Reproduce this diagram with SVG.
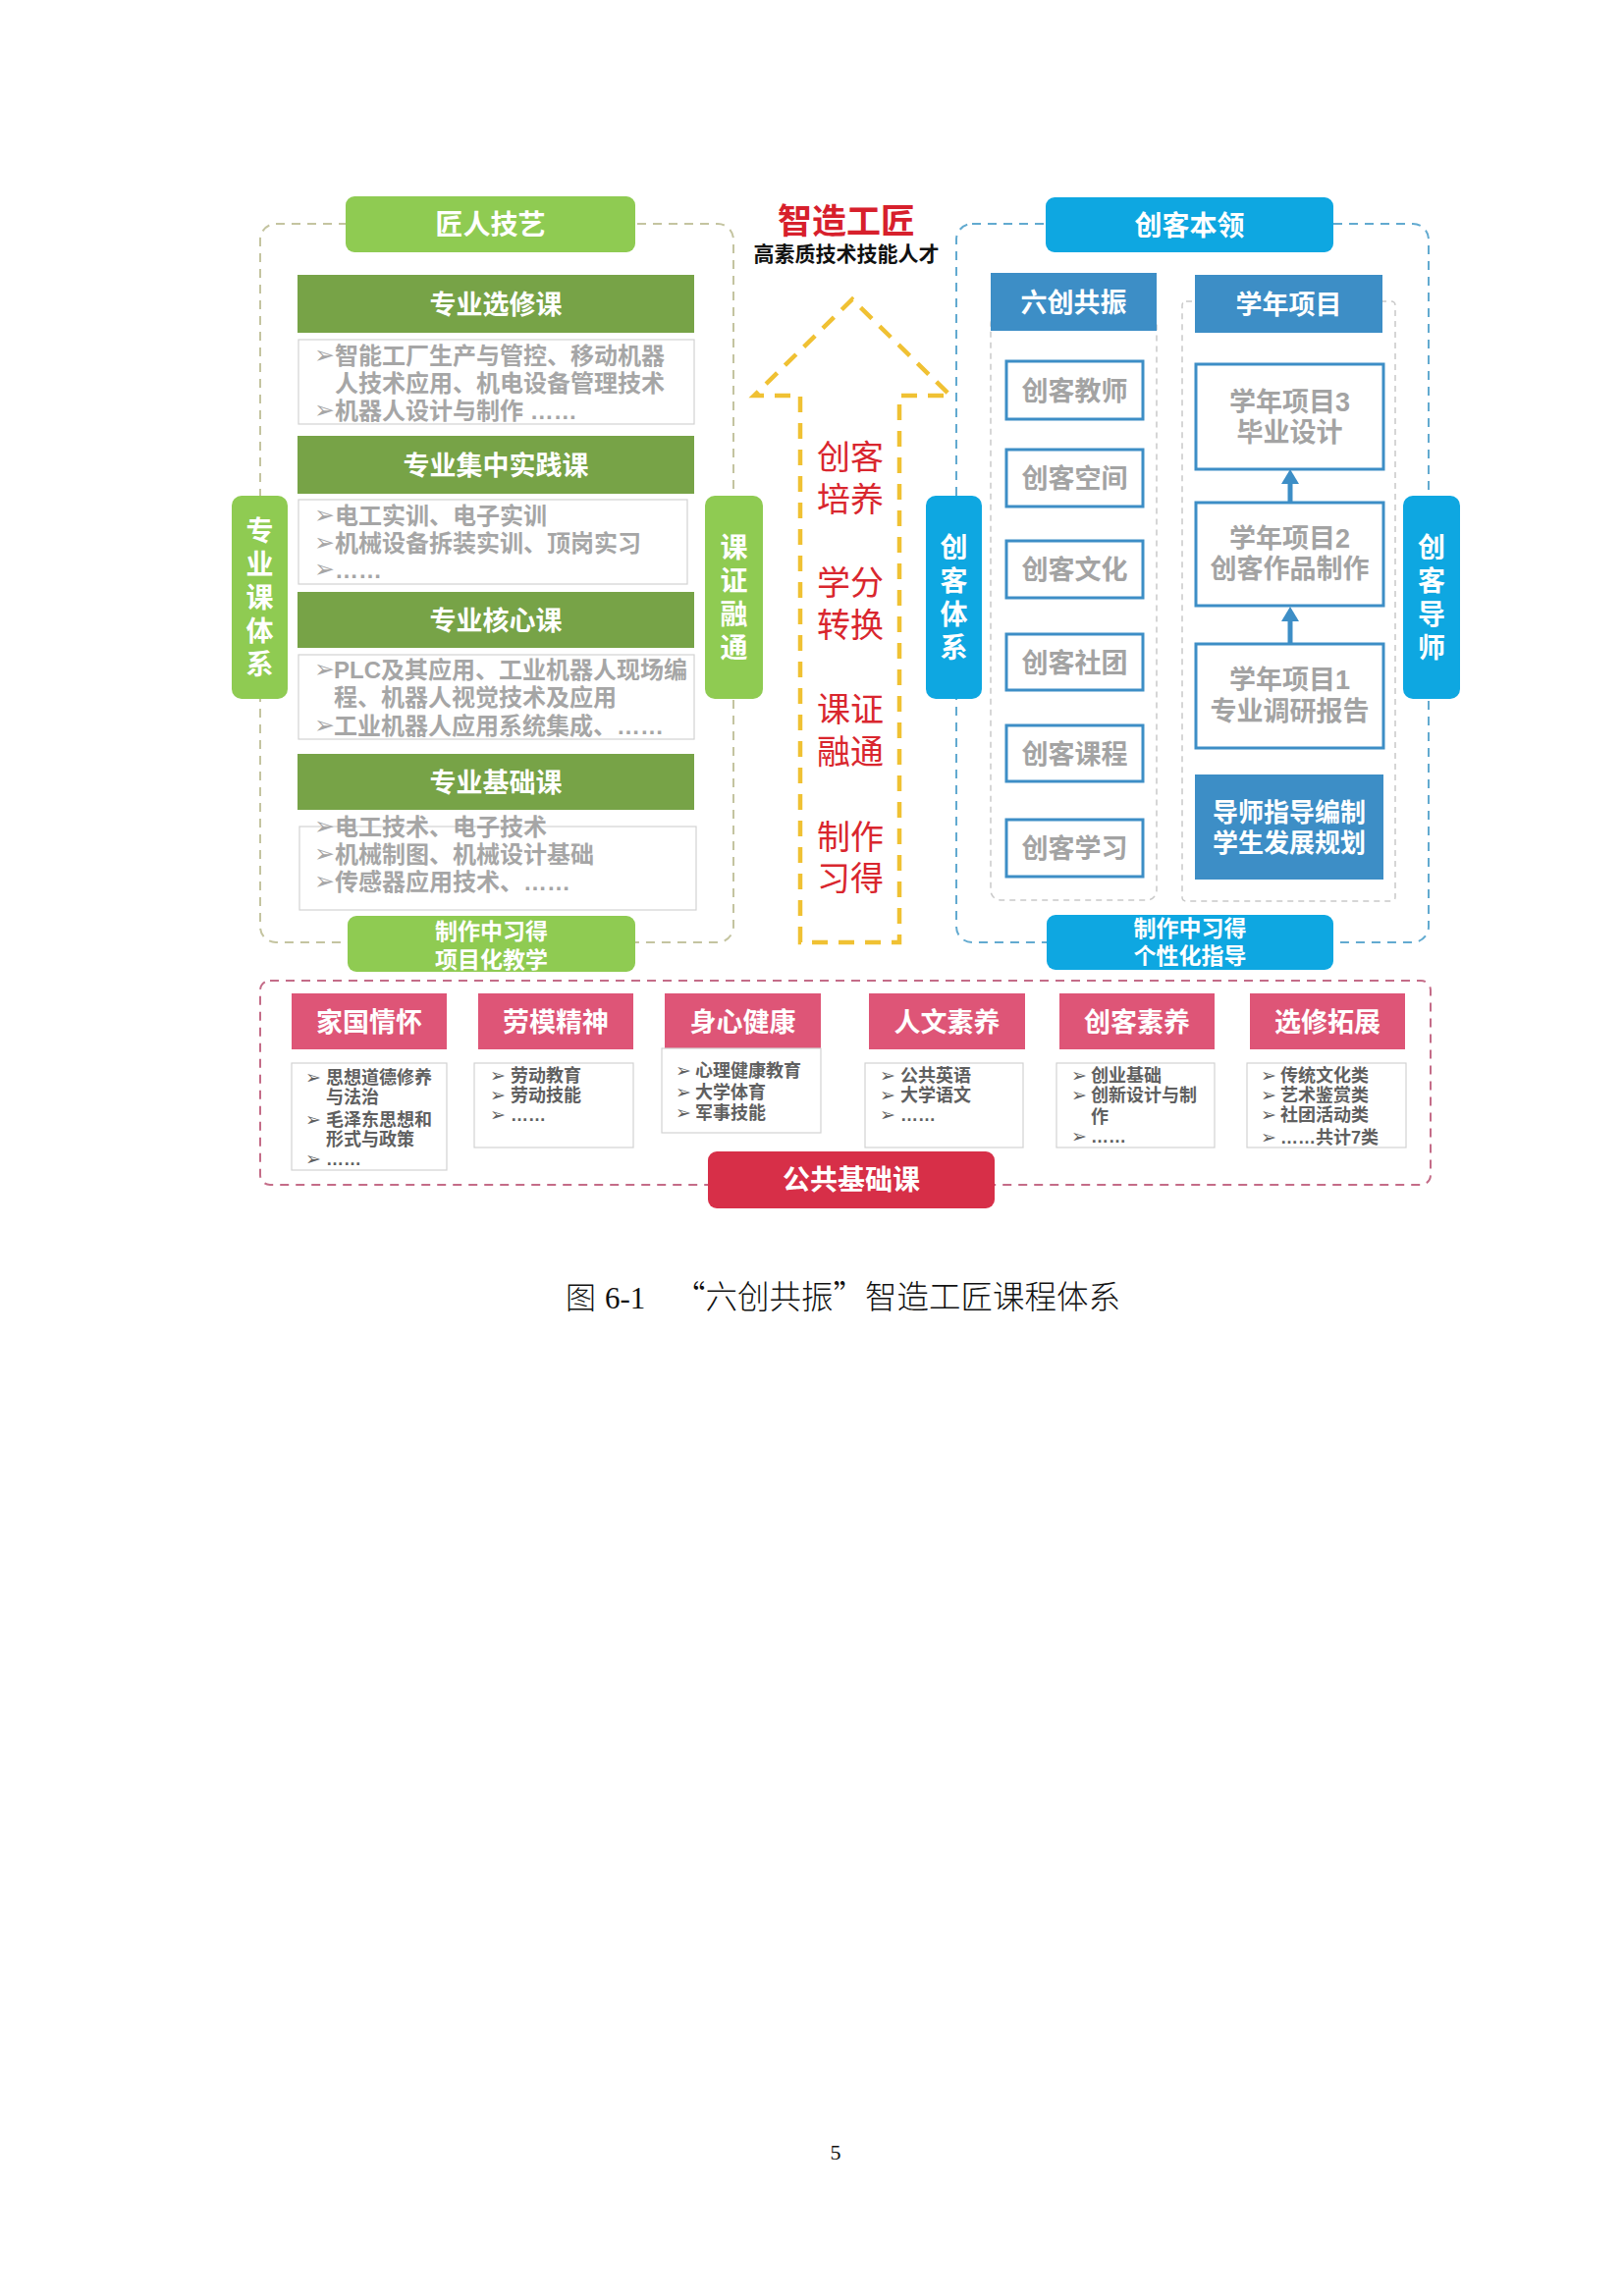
<svg xmlns="http://www.w3.org/2000/svg" width="1654" height="2339" viewBox="0 0 1654 2339">
<style>
.t{font-family:"Liberation Sans","Noto Sans CJK SC",sans-serif;text-anchor:middle;}
.s{font-family:"Liberation Sans","Noto Sans CJK SC",sans-serif;}
.b{font-family:"DejaVu Sans",sans-serif;}
.w{fill:#fff;font-weight:bold;}
.hd{font-size:27px;}
.lg{fill:#a6a6a6;font-weight:bold;font-size:24px;}
.lgb{fill:#a6a6a6;font-size:25px;}
.gbox{fill:#fff;stroke:#d2d2d2;stroke-width:1.2;}
.ghd{fill:#77a347;}
.lgreen{fill:#8fcb52;}
.blue{fill:#0ea7e1;}
.bhd{fill:#3d8ec6;}
.cbox{fill:#fff;stroke:#3d8ec6;stroke-width:3;}
.ct{fill:#a3a3a3;font-weight:bold;font-size:27px;}
.red{fill:#d9262e;font-size:34px;}
.phd{fill:#de5577;}
.pt{fill:#606060;font-weight:bold;font-size:18px;}
.pb{fill:#606060;font-size:19px;}
.dash{fill:none;stroke-width:2;stroke-dasharray:9 7;}
.col{fill:none;stroke:#c9c9c9;stroke-width:1.5;stroke-dasharray:6 5;}
</style>
<rect width="1654" height="2339" fill="#fff"/>

<!-- LEFT: 匠人技艺 -->
<g id="left-frame"><rect x="265" y="228" width="482" height="732" rx="16" class="dash" stroke="#c4c4a0"/></g>
<g id="jiangren"><rect x="352" y="200" width="295" height="57" rx="9" class="lgreen"/><text x="499.5" y="239" class="t w" font-size="28">匠人技艺</text></g>

<g id="xuanxiu">
<rect x="303" y="280" width="404" height="59" class="ghd"/><text x="505" y="320" class="t w hd">专业选修课</text>
<rect x="304" y="346" width="403" height="86" class="gbox"/>
<text x="320" y="370" class="b lgb">➢</text><text x="341" y="371" class="s lg">智能工厂生产与管控、移动机器</text>
<text x="341" y="399" class="s lg">人技术应用、机电设备管理技术</text>
<text x="320" y="426" class="b lgb">➢</text><text x="341" y="427" class="s lg">机器人设计与制作 ……</text>
</g>
<g id="jizhong">
<rect x="303" y="444" width="404" height="59" class="ghd"/><text x="505" y="484" class="t w hd">专业集中实践课</text>
<rect x="304" y="509" width="396" height="86" class="gbox"/>
<text x="320" y="533" class="b lgb">➢</text><text x="341" y="534" class="s lg">电工实训、电子实训</text>
<text x="320" y="561" class="b lgb">➢</text><text x="341" y="562" class="s lg">机械设备拆装实训、顶岗实习</text>
<text x="320" y="588" class="b lgb">➢</text><text x="341" y="589" class="s lg">……</text>
</g>
<g id="hexin">
<rect x="303" y="603" width="404" height="57" class="ghd"/><text x="505" y="642" class="t w hd">专业核心课</text>
<rect x="304" y="667" width="403" height="86" class="gbox"/>
<text x="320" y="690" class="b lgb">➢</text><text x="340" y="691" class="s lg">PLC及其应用、工业机器人现场编</text>
<text x="340" y="719" class="s lg">程、机器人视觉技术及应用</text>
<text x="320" y="747" class="b lgb">➢</text><text x="340" y="748" class="s lg">工业机器人应用系统集成、……</text>
</g>
<g id="jichu">
<rect x="303" y="768" width="404" height="57" class="ghd"/><text x="505" y="807" class="t w hd">专业基础课</text>
<rect x="305" y="842" width="404" height="85" class="gbox"/>
<text x="320" y="850" class="b lgb">➢</text><text x="341" y="851" class="s lg">电工技术、电子技术</text>
<text x="320" y="878" class="b lgb">➢</text><text x="341" y="879" class="s lg">机械制图、机械设计基础</text>
<text x="320" y="906" class="b lgb">➢</text><text x="341" y="907" class="s lg">传感器应用技术、……</text>
</g>
<g id="xiangmuhua"><rect x="354" y="933" width="293" height="57" rx="9" class="lgreen"/>
<text x="500.5" y="957" class="t w" font-size="23">制作中习得</text><text x="500.5" y="986" class="t w" font-size="23">项目化教学</text></g>
<g id="zhuanye-tixi"><rect x="236" y="505" width="57" height="207" rx="10" class="lgreen"/>
<text x="264.5" y="551" class="t w" font-size="28">专</text><text x="264.5" y="585" class="t w" font-size="28">业</text><text x="264.5" y="619" class="t w" font-size="28">课</text><text x="264.5" y="653" class="t w" font-size="28">体</text><text x="264.5" y="687" class="t w" font-size="28">系</text></g>
<g id="kezheng"><rect x="718" y="505" width="59" height="207" rx="10" class="lgreen"/>
<text x="747.5" y="568" class="t w" font-size="28">课</text><text x="747.5" y="602" class="t w" font-size="28">证</text><text x="747.5" y="636" class="t w" font-size="28">融</text><text x="747.5" y="670" class="t w" font-size="28">通</text></g>

<!-- MIDDLE -->
<g id="zhizao"><text x="862" y="238" class="t" font-size="35" font-weight="bold" fill="#d7202c">智造工匠</text>
<text x="862" y="266" class="t" font-size="21" font-weight="bold" fill="#111">高素质技术技能人才</text></g>
<g id="big-arrow">
<polygon points="815,960 815,403 768,403 868,305 968,403 916,403 916,960" fill="none" stroke="#f0c133" stroke-width="4.5" stroke-dasharray="16 11"/>
<text x="866" y="478" class="t red">创客</text><text x="866" y="521" class="t red">培养</text>
<text x="866" y="606" class="t red">学分</text><text x="866" y="649" class="t red">转换</text>
<text x="866" y="735" class="t red">课证</text><text x="866" y="778" class="t red">融通</text>
<text x="866" y="865" class="t red">制作</text><text x="866" y="907" class="t red">习得</text>
</g>

<!-- RIGHT: 创客本领 -->
<g id="right-frame"><rect x="974" y="228" width="481" height="732" rx="16" class="dash" stroke="#62aad0"/></g>
<g id="benling"><rect x="1065" y="201" width="293" height="56" rx="9" class="blue"/><text x="1211.5" y="240" class="t w" font-size="28">创客本领</text></g>
<g id="liuchuang">
<rect x="1009" y="320" width="169" height="597" rx="10" class="col"/>
<rect x="1009" y="278" width="169" height="59" class="bhd"/><text x="1093.5" y="318" class="t w hd">六创共振</text>
<rect x="1025" y="368" width="139" height="59" class="cbox"/><text x="1094.5" y="408" class="t ct">创客教师</text>
<rect x="1025" y="458" width="139" height="58" class="cbox"/><text x="1094.5" y="497" class="t ct">创客空间</text>
<rect x="1025" y="551" width="139" height="58" class="cbox"/><text x="1094.5" y="590" class="t ct">创客文化</text>
<rect x="1025" y="646" width="139" height="57" class="cbox"/><text x="1094.5" y="685" class="t ct">创客社团</text>
<rect x="1025" y="739" width="139" height="57" class="cbox"/><text x="1094.5" y="778" class="t ct">创客课程</text>
<rect x="1025" y="835" width="139" height="58" class="cbox"/><text x="1094.5" y="874" class="t ct">创客学习</text>
</g>
<g id="xuenian">
<rect x="1204" y="307" width="217" height="611" rx="4" class="col"/>
<rect x="1217" y="280" width="191" height="59" class="bhd"/><text x="1312.5" y="320" class="t w hd">学年项目</text>
</g>
<g id="xm3"><rect x="1218" y="371" width="191" height="107" class="cbox"/><text x="1313.5" y="419" class="t ct">学年项目3</text><text x="1313.5" y="450" class="t ct">毕业设计</text></g>
<g id="xm2"><rect x="1218" y="512" width="191" height="105" class="cbox"/><text x="1313.5" y="558" class="t ct">学年项目2</text><text x="1313.5" y="589" class="t ct">创客作品制作</text></g>
<g id="xm1"><rect x="1218" y="656" width="191" height="106" class="cbox"/><text x="1313.5" y="702" class="t ct">学年项目1</text><text x="1313.5" y="734" class="t ct">专业调研报告</text></g>
<g id="daoshi-guihua"><rect x="1217" y="789" width="192" height="107" class="bhd"/><text x="1313" y="837" class="t w" font-size="26">导师指导编制</text><text x="1313" y="868" class="t w" font-size="26">学生发展规划</text></g>
<g id="chuangke-tixi"><rect x="943" y="505" width="57" height="207" rx="10" class="blue"/>
<text x="971.5" y="568" class="t w" font-size="28">创</text><text x="971.5" y="602" class="t w" font-size="28">客</text><text x="971.5" y="636" class="t w" font-size="28">体</text><text x="971.5" y="670" class="t w" font-size="28">系</text></g>
<g id="chuangke-daoshi"><rect x="1429" y="505" width="58" height="207" rx="10" class="blue"/>
<text x="1458" y="568" class="t w" font-size="28">创</text><text x="1458" y="602" class="t w" font-size="28">客</text><text x="1458" y="636" class="t w" font-size="28">导</text><text x="1458" y="670" class="t w" font-size="28">师</text></g>
<g id="gexinghua"><rect x="1066" y="932" width="292" height="56" rx="9" class="blue"/>
<text x="1212" y="954" class="t w" font-size="23">制作中习得</text><text x="1212" y="982" class="t w" font-size="23">个性化指导</text></g>

<g id="connectors" fill="#3d8ec6" stroke="#3d8ec6">
<line x1="1314" y1="512" x2="1314" y2="490" stroke-width="5"/><polygon points="1305,493 1323,493 1314,478" stroke="none"/>
<line x1="1314" y1="656" x2="1314" y2="631" stroke-width="5"/><polygon points="1305,633 1323,633 1314,618" stroke="none"/>
</g>

<!-- BOTTOM: 公共基础课 -->
<g id="bottom-frame"><rect x="265" y="999" width="1192" height="208" rx="10" class="dash" stroke="#c46c88"/></g>
<g id="jiaguo">
<rect x="297" y="1012" width="158" height="57" class="phd"/><text x="376" y="1051" class="t w hd">家国情怀</text>
<rect x="297" y="1083" width="158" height="109" class="gbox"/>
<text x="311" y="1104" class="b pb">➢</text><text x="332" y="1104" class="s pt">思想道德修养</text>
<text x="332" y="1124" class="s pt">与法治</text>
<text x="311" y="1147" class="b pb">➢</text><text x="332" y="1147" class="s pt">毛泽东思想和</text>
<text x="332" y="1167" class="s pt">形式与政策</text>
<text x="311" y="1187" class="b pb">➢</text><text x="332" y="1187" class="s pt">……</text>
</g>
<g id="laomo">
<rect x="487" y="1012" width="158" height="57" class="phd"/><text x="566" y="1051" class="t w hd">劳模精神</text>
<rect x="483" y="1083" width="162" height="86" class="gbox"/>
<text x="499" y="1102" class="b pb">➢</text><text x="520" y="1102" class="s pt">劳动教育</text>
<text x="499" y="1122" class="b pb">➢</text><text x="520" y="1122" class="s pt">劳动技能</text>
<text x="499" y="1142" class="b pb">➢</text><text x="520" y="1142" class="s pt">……</text>
</g>
<g id="shenxin">
<rect x="677" y="1012" width="159" height="56" class="phd"/><text x="756.5" y="1051" class="t w hd">身心健康</text>
<rect x="674" y="1068" width="162" height="86" class="gbox"/>
<text x="688" y="1097" class="b pb">➢</text><text x="708" y="1097" class="s pt">心理健康教育</text>
<text x="688" y="1119" class="b pb">➢</text><text x="708" y="1119" class="s pt">大学体育</text>
<text x="688" y="1140" class="b pb">➢</text><text x="708" y="1140" class="s pt">军事技能</text>
</g>
<g id="renwen">
<rect x="885" y="1012" width="159" height="57" class="phd"/><text x="964.5" y="1051" class="t w hd">人文素养</text>
<rect x="881" y="1083" width="161" height="86" class="gbox"/>
<text x="896" y="1102" class="b pb">➢</text><text x="917" y="1102" class="s pt">公共英语</text>
<text x="896" y="1122" class="b pb">➢</text><text x="917" y="1122" class="s pt">大学语文</text>
<text x="896" y="1142" class="b pb">➢</text><text x="917" y="1142" class="s pt">……</text>
</g>
<g id="chuangke-suyang">
<rect x="1079" y="1012" width="158" height="57" class="phd"/><text x="1158" y="1051" class="t w hd">创客素养</text>
<rect x="1076" y="1083" width="161" height="86" class="gbox"/>
<text x="1091" y="1102" class="b pb">➢</text><text x="1111" y="1102" class="s pt">创业基础</text>
<text x="1091" y="1122" class="b pb">➢</text><text x="1111" y="1122" class="s pt">创新设计与制</text>
<text x="1111" y="1144" class="s pt">作</text>
<text x="1091" y="1164" class="b pb">➢</text><text x="1111" y="1164" class="s pt">……</text>
</g>
<g id="xuanxiu-tuozhan">
<rect x="1273" y="1012" width="158" height="57" class="phd"/><text x="1352" y="1051" class="t w hd">选修拓展</text>
<rect x="1270" y="1083" width="162" height="86" class="gbox"/>
<text x="1284" y="1102" class="b pb">➢</text><text x="1304" y="1102" class="s pt">传统文化类</text>
<text x="1284" y="1122" class="b pb">➢</text><text x="1304" y="1122" class="s pt">艺术鉴赏类</text>
<text x="1284" y="1142" class="b pb">➢</text><text x="1304" y="1142" class="s pt">社团活动类</text>
<text x="1284" y="1165" class="b pb">➢</text><text x="1304" y="1165" class="s pt">……共计7类</text>
</g>
<g id="gonggong"><rect x="721" y="1173" width="292" height="58" rx="9" fill="#d72f48"/><text x="867" y="1212" class="t w" font-size="28">公共基础课</text></g>

<g id="caption" font-weight="300" fill="#111">
<text x="576" y="1333" font-size="31" font-family="Noto Sans CJK SC, sans-serif">图</text>
<text x="616" y="1333" font-size="31" font-family="Liberation Serif, serif">6-1</text>
<text x="686" y="1333" font-size="32.5" font-family="Noto Sans CJK SC, sans-serif">“六创共振”智造工匠课程体系</text>
</g>
<g id="page-number"><text x="851" y="2200" font-family="Liberation Serif, serif" font-size="22" text-anchor="middle" fill="#111">5</text></g>
</svg>
